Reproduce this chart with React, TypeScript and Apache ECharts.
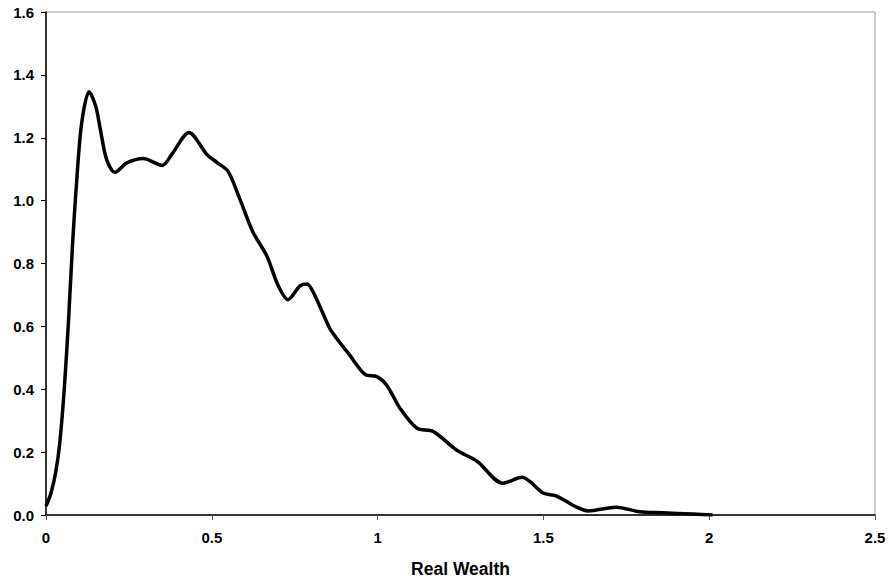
import React, { useEffect, useRef } from "react";
import * as echarts from "echarts";

const xs = [0, 0.015, 0.03, 0.042, 0.055, 0.068, 0.08, 0.093, 0.108, 0.13, 0.15, 0.165, 0.183, 0.208, 0.244, 0.293, 0.35, 0.383, 0.431, 0.485, 0.515, 0.549, 0.585, 0.624, 0.666, 0.7, 0.73, 0.766, 0.787, 0.81, 0.856, 0.878, 0.917, 0.962, 0.998, 1.028, 1.068, 1.119, 1.167, 1.239, 1.3, 1.378, 1.435, 1.499, 1.54, 1.6, 1.635, 1.72, 1.79, 1.86, 1.95, 2.01];
const ys = [0.028, 0.07, 0.14, 0.234, 0.4, 0.62, 0.86, 1.07, 1.25, 1.346, 1.3, 1.22, 1.13, 1.09, 1.12, 1.134, 1.112, 1.153, 1.217, 1.147, 1.122, 1.093, 1.004, 0.9, 0.824, 0.73, 0.685, 0.729, 0.735, 0.7, 0.593, 0.56, 0.507, 0.447, 0.44, 0.412, 0.339, 0.276, 0.266, 0.206, 0.171, 0.101, 0.12, 0.07, 0.06, 0.025, 0.013, 0.025, 0.01, 0.007, 0.003, 0];
const xTitle = "Real Wealth";

export default function App() {
  const ref = useRef<HTMLDivElement>(null);
  useEffect(() => {
    const chart = echarts.init(ref.current!, undefined, { renderer: "svg" });
    const font = "'Liberation Sans', Arial, sans-serif";
    chart.setOption({
      animation: false,
      backgroundColor: "#fff",
      grid: { left: 46, right: 14, top: 12, bottom: 66, show: true, borderColor: "#999", borderWidth: 1 },
      xAxis: {
        type: "value", min: 0, max: 2.5, interval: 0.5,
        name: xTitle, nameLocation: "middle", nameGap: 45,
        nameTextStyle: { fontFamily: font, fontWeight: "bold", fontSize: 17.5, color: "#000" },
        axisLine: { lineStyle: { color: "#000", width: 1.5 } },
        axisTick: { show: true, inside: false, length: 5, lineStyle: { color: "#555" } },
        axisLabel: { fontFamily: font, fontWeight: "bold", fontSize: 15, color: "#000", margin: 15,
          formatter: (v: number) => String(v) },
        splitLine: { show: false },
      },
      yAxis: {
        type: "value", min: 0, max: 1.6, interval: 0.2,
        axisLine: { show: true, lineStyle: { color: "#000", width: 1.5 } },
        axisTick: { show: true, inside: false, length: 5, lineStyle: { color: "#000" } },
        axisLabel: { fontFamily: font, fontWeight: "bold", fontSize: 15, color: "#000", margin: 12,
          formatter: (v: number) => v.toFixed(1) },
        splitLine: { show: false },
      },
      series: [{
        type: "line", data: xs.map((x, i) => [x, ys[i]]), smooth: 0.3, showSymbol: false,
        lineStyle: { color: "#000", width: 3.5 },
      }],
    });
    return () => chart.dispose();
  }, []);
  return <div ref={ref} style={{ position: "fixed", left: 0, top: 0, width: 889, height: 583 }} />;
}
